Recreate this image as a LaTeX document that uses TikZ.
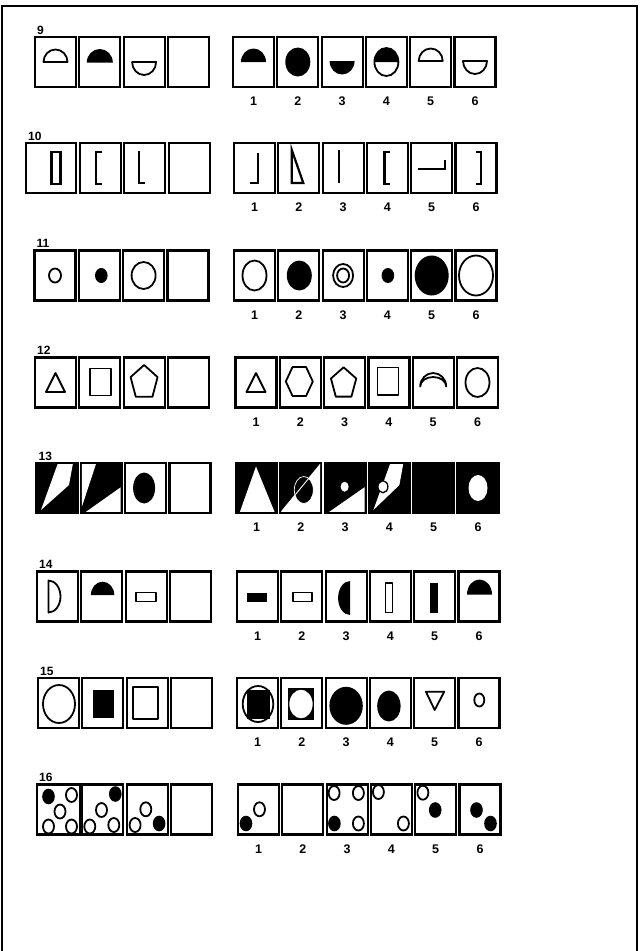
\documentclass[tikz,border=0pt]{standalone}
\usepackage{fontspec}
\setmainfont{Liberation Sans}
\usetikzlibrary{calc}
\tikzset{
  qbox/.style={draw, line width=2.2pt, minimum width=41pt, minimum height=50pt, inner sep=0pt, outer sep=0pt},
  qsh/.style={line width=1.8pt, line join=round},
  qbr/.style={line width=2.2pt, line join=miter},
  num/.style={font=\fontsize{12.5}{12.5}\selectfont\bfseries, inner sep=0pt, anchor=base},
  lab/.style={font=\fontsize{12}{12}\selectfont\bfseries, inner sep=0pt, anchor=base west}
}
\newcommand\qrow[6]{%
  \node[qbox, minimum width=#6pt] (q#1L1) at (#5,#2) {};
  \foreach \k in {2,3,4}{\node[qbox] (q#1L\k) at ({#3+44.3*(\k-1)},#2) {};}
  \foreach \k in {1,...,6}{\node[qbox] (q#1R\k) at ({#4+44.3*(\k-1)},#2) {};
    \node[num] (q#1N\k) at ($(q#1R\k.south)+(0,18.5)$) {\k};}
  \node[lab] (q#1T) at ($(q#1L1.north west)+(2,-3)$) {#1};
}
\newcommand\cell[2]{\begin{scope}[shift={(q#1.center)}]#2\end{scope}}
\newcommand\qblk{\fill (-20.5,-25) rectangle (20.5,25);}
\newcommand\qwhite[1]{\begin{scope}\clip (-19.4,-23.9) rectangle (19.4,23.9); \fill[white] #1; \end{scope}}
\newcommand\qoc[2]{\draw[qsh] (#1,#2) ellipse [x radius=5.5, y radius=7];}
\newcommand\qfc[2]{\fill (#1,#2) ellipse [x radius=6.3, y radius=7.8];}
\begin{document}
\begin{tikzpicture}[x=1pt,y=-1pt]
\useasboundingbox (0,0) rectangle (640,951);
\fill[white] (0,0) rectangle (640,951);
\draw[line width=1.8pt] (2,951) -- (2,6) -- (637,6) -- (637,951);

% ---------------- row 9
\qrow{9}{62}{55.5}{253.5}{55.5}{41}
\cell{9L1}{\draw[qsh] (-12,0) arc[start angle=180,end angle=360,x radius=12,y radius=12.5] -- cycle;}
\cell{9L2}{\fill (-13,0.5) arc[start angle=180,end angle=360,x radius=13,y radius=13.5] -- cycle;}
\cell{9L3}{\draw[qsh] (-12,0) arc[start angle=180,end angle=0,x radius=12,y radius=13] -- cycle;}
\cell{9R1}{\fill (-12.5,0) arc[start angle=180,end angle=360,x radius=12.5,y radius=13.5] -- cycle;}
\cell{9R2}{\fill (0,0) ellipse [x radius=12.5, y radius=14.5];}
\cell{9R3}{\fill (-12.5,-1) arc[start angle=180,end angle=0,x radius=12.5,y radius=13.5] -- cycle;}
\cell{9R4}{\draw[qsh] (0,0) ellipse [x radius=12, y radius=14];
  \fill (-12,0) arc[start angle=180,end angle=360,x radius=12,y radius=14] -- cycle;}
\cell{9R5}{\draw[qsh] (-12,-1) arc[start angle=180,end angle=360,x radius=12,y radius=12.5] -- cycle;}
\cell{9R6}{\draw[qsh] (-12,-1) arc[start angle=180,end angle=0,x radius=12,y radius=13] -- cycle;}

% ---------------- row 10
\qrow{10}{168}{56.2}{254.5}{51}{50}
\cell{10L1}{\draw[qbr] (0.5,-16) rectangle (9.5,16);}
\cell{10L2}{\draw[qbr] (1.5,-16) -- (-4.5,-16) -- (-4.5,16) -- (1.5,16);}
\cell{10L3}{\draw[qbr] (-5.5,-17) -- (-5.5,15) -- (0.5,15);}
\cell{10R1}{\draw[qbr] (3.5,-15) -- (3.5,15) -- (-4.5,15);}
\cell{10R2}{\draw[qbr] (-7,-18) -- (-7,15) -- (4.5,15) -- cycle;}
\cell{10R3}{\draw[qbr] (-4,-18) -- (-4,15);}
\cell{10R4}{\draw[qbr] (2.7,-16) -- (-3,-16) -- (-3,16) -- (2.7,16);}
\cell{10R5}{\draw[qbr] (-14,1) -- (13,1) -- (13,-8);}
\cell{10R6}{\draw[qbr] (-0.5,-16) -- (5.2,-16) -- (5.2,16) -- (-0.5,16);}

% ---------------- row 11
\qrow{11}{275.5}{55}{254.5}{55}{41}
\cell{11L1}{\draw[qsh] (0,0) ellipse [x radius=6, y radius=7];}
\cell{11L2}{\fill (2,0) ellipse [x radius=6.3, y radius=7.5];}
\cell{11L3}{\draw[qsh] (0,0) ellipse [x radius=12, y radius=13.5];}
\cell{11R1}{\draw[qsh] (0,0) ellipse [x radius=12, y radius=15];}
\cell{11R2}{\fill (0.5,0) ellipse [x radius=12.5, y radius=15];}
\cell{11R3}{\draw[qsh] (0,0) ellipse [x radius=10, y radius=11.5];
  \draw[qsh] (0,0) ellipse [x radius=6, y radius=7];}
\cell{11R4}{\fill (0.5,0) ellipse [x radius=6.3, y radius=7.5];}
\cell{11R5}{\fill (0,0) ellipse [x radius=17, y radius=20];}
\cell{11R6}{\draw[qsh] (0,0) ellipse [x radius=17, y radius=20];}

% ---------------- row 12
\qrow{12}{382.5}{55.5}{256}{55.5}{41}
\cell{12L1}{\draw[qsh] (-9.5,9.5) -- (9.5,9.5) -- (0,-9.5) -- cycle;}
\cell{12L2}{\draw[qsh] (-9.5,-14) rectangle (11.5,13);}
\cell{12L3}{\draw[qsh] (0,-17.5) -- (-13.5,-5.4) -- (-8.35,14.2) -- (8.35,14.2) -- (13.5,-5.4) -- cycle;}
\cell{12R1}{\draw[qsh] (-9.5,9.5) -- (9.5,9.5) -- (0,-9.5) -- cycle;}
\cell{12R2}{\draw[qsh] (-14.5,-1) -- (-7.75,-15.5) -- (5.75,-15.5) -- (12.5,-1) -- (5.75,13.5) -- (-7.75,13.5) -- cycle;}
\cell{12R3}{\draw[qsh] (-1,-15.2) -- (-13.65,-4) -- (-8.82,14.1) -- (6.82,14.1) -- (11.65,-4) -- cycle;}
\cell{12R4}{\draw[qsh] (-11.5,-15) rectangle (9.5,12.5);}
\cell{12R5}{\draw[qsh] (-13,4) arc[start angle=180,end angle=360,x radius=13,y radius=13.5]
  arc[start angle=0,end angle=-180,x radius=13,y radius=9.5] -- cycle;}
\cell{12R6}{\draw[qsh] (0,0) ellipse [x radius=12, y radius=14.5];}

% ---------------- row 13
\qrow{13}{488}{57}{256.5}{57}{41}
\cell{13L1}{\qblk \qwhite{(-16,22) -- (1,-25) -- (16,-25) -- (12,-3) -- cycle}}
\cell{13L2}{\qblk \qwhite{(-20.5,-25) -- (-5,-25) -- (-20.5,22) -- cycle}
  \qwhite{(-17,25) -- (20.5,-1.5) -- (20.5,25) -- cycle}}
\cell{13L3}{\fill (-1.5,0) ellipse [x radius=11, y radius=15.5];}
\cell{13R1}{\qblk \qwhite{(-0.5,-21.5) -- (-17,25) -- (18.5,25) -- cycle}}
\cell{13R2}{\qblk \qwhite{(-20.5,25) -- (20.5,-25) -- (20.5,25) -- cycle}
  \fill (3,2) ellipse [x radius=9.5, y radius=13.5];
  \draw[white, line width=0.7pt] (3,2) ellipse [x radius=9.5, y radius=13.5];
  \begin{scope}\clip (-19.4,-23.9) rectangle (19.4,23.9);
  \draw[white, line width=0.9pt] (-20.5,25) -- (20.5,-25);\end{scope}}
\cell{13R3}{\qblk \qwhite{(-17.5,25) -- (20.5,-1.5) -- (20.5,25) -- cycle}
  \fill[white] (-0.5,-1.3) ellipse [x radius=4, y radius=5];}
\cell{13R4}{\qblk \qwhite{(-16,22) -- (1,-25) -- (14,-25) -- (10,-3) -- cycle}
  \draw[line width=1.3pt, fill=white] (-6.5,-1.3) ellipse [x radius=5, y radius=6];}
\cell{13R5}{\qblk}
\cell{13R6}{\qblk \fill[white] (0,0) ellipse [x radius=9.5, y radius=13];}

% ---------------- row 14
\qrow{14}{596.5}{57.5}{257.5}{57.5}{41}
\cell{14L1}{\draw[qsh] (-9,-16) arc[start angle=-90,end angle=90,x radius=12,y radius=16] -- cycle;}
\cell{14L2}{\fill (-10.9,-1.5) arc[start angle=180,end angle=360,x radius=11.7,y radius=13.3] -- cycle;}
\cell{14L3}{\draw[qsh] (-10,-4) rectangle (10,5);}
\cell{14R1}{\fill (-10.5,-4) rectangle (9.5,5.5);}
\cell{14R2}{\draw[qsh] (-9,-4) rectangle (10,5);}
\cell{14R3}{\fill (4,-15.5) arc[start angle=270,end angle=90,x radius=12,y radius=17] -- cycle;}
\cell{14R4}{\draw[qsh] (-5,-13.5) rectangle (2,16);}
\cell{14R5}{\fill (-4.5,-13.5) rectangle (3,16);}
\cell{14R6}{\fill (-12,-2) arc[start angle=180,end angle=360,x radius=12.5,y radius=15] -- cycle;}

% ---------------- row 15
\qrow{15}{703}{58.5}{257.5}{58.5}{41}
\cell{15L1}{\draw[qsh] (0.5,1) ellipse [x radius=16, y radius=19];}
\cell{15L2}{\fill (-10,-13) rectangle (11.5,14.5);}
\cell{15L3}{\draw[qsh] (-14,-16.3) rectangle (11,16.3);}
\cell{15R1}{\draw[qsh] (0.5,1) ellipse [x radius=15.3, y radius=18];
  \fill (-11,-13.5) rectangle (12,15.5);}
\cell{15R2}{\fill (-14.2,-15) rectangle (12.5,17);
  \draw[line width=1.2pt, fill=white] (-0.8,1) ellipse [x radius=12.3, y radius=15];}
\cell{15R3}{\fill (0,2.8) ellipse [x radius=16.7, y radius=19];}
\cell{15R4}{\fill (-1.5,3) ellipse [x radius=11.7, y radius=15.5];}
\cell{15R5}{\draw[qsh] (-8.8,-11.3) -- (9.5,-11.3) -- (0,7) -- cycle;}
\cell{15R6}{\draw[qsh] (0.3,-3) ellipse [x radius=5, y radius=6.5];}

% ---------------- row 16
\qrow{16}{809.5}{58.5}{258.5}{58.5}{43}
\cell{16L1}{\qfc{-10}{-13} \qoc{13}{-14.5} \qoc{1.5}{2} \qoc{-10}{17} \qoc{13}{17}}
\cell{16L2}{\qfc{12.5}{-15.5} \qoc{-1.3}{0.5} \qoc{-13}{17} \qoc{11}{15.5}}
\cell{16L3}{\qoc{-1.3}{-0.2} \qoc{-12}{15.5} \qfc{12}{14}}
\cell{16R1}{\qoc{1}{-0.2} \qfc{-12.5}{14}}
\cell{16R3}{\qoc{-13}{-16.5} \qoc{11.3}{-16.5} \qfc{-12.7}{14} \qoc{11.3}{14}}
\cell{16R4}{\qoc{-13}{-17.5} \qoc{12}{14}}
\cell{16R5}{\qoc{-12.8}{-16.8} \qfc{-0.5}{0.5}}
\cell{16R6}{\qfc{-3.5}{0.5} \qfc{10.5}{14}}
\end{tikzpicture}
\end{document}
